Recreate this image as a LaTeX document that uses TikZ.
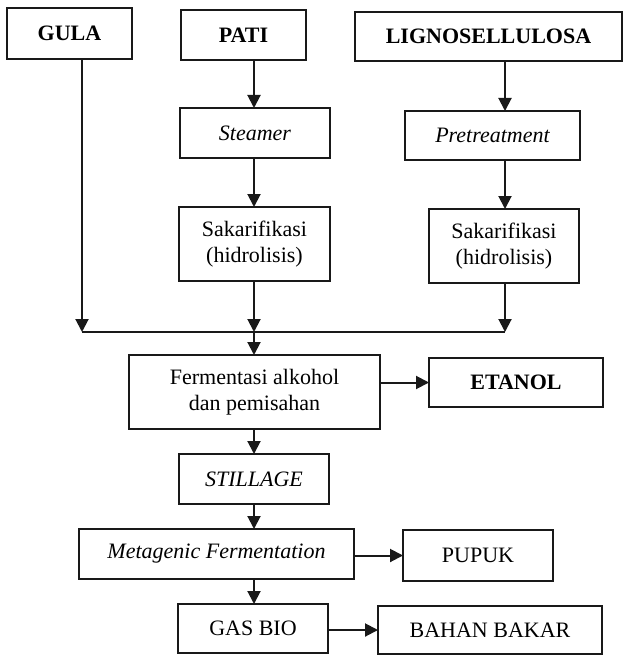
\documentclass[tikz,border=0pt]{standalone}
\usepackage{fontspec}
\setmainfont{Liberation Serif}
\usetikzlibrary{arrows.meta}
\begin{document}
\begin{tikzpicture}[x=1pt,y=-1pt,
  box/.style={draw=black!90, line width=1.9pt, rectangle, inner sep=0pt, outer sep=0pt,
    align=center, font=\fontsize{22}{26.5}\selectfont},
  bx/.style={box, font=\fontsize{22}{26.5}\selectfont\bfseries},
  it/.style={box, font=\fontsize{22}{26.5}\selectfont\itshape},
  arr/.style={draw=black!90, line width=2pt, -{Triangle[length=13pt,width=13pt]}},
  ln/.style={draw=black!90, line width=2pt}]
\useasboundingbox[fill=white] (0,0) rectangle (626,655);
% top row
\node[bx, minimum width=125pt, minimum height=51pt] (gula) at (69.5,33.5) {GULA};
\node[bx, minimum width=125pt, minimum height=50pt] (pati) at (243.5,35) {PATI};
\node[bx, minimum width=267pt, minimum height=49pt] (ligno) at (488.5,36.5) {LIGNOSELLULOSA};
% second row
\node[it, minimum width=150pt, minimum height=50pt] (steamer) at (255,133) {Steamer};
\node[it, minimum width=175pt, minimum height=49pt] (pretr) at (492.5,135.5) {Pretreatment};
% third row
\node[box, minimum width=151pt, minimum height=74pt] (sak1) at (254.5,244) {Sakarifikasi\\(hidrolisis)};
\node[box, minimum width=150pt, minimum height=74pt] (sak2) at (504,246) {Sakarifikasi\\(hidrolisis)};
% junction
\coordinate (jl) at (82,332);
\coordinate (jm) at (254,332);
\coordinate (jr) at (505,332);
% fermentation
\node[box, minimum width=251pt, minimum height=74pt] (ferm) at (254.5,392) {Fermentasi alkohol\\dan pemisahan};
\node[bx, minimum width=174pt, minimum height=49pt] (etanol) at (516,382.5) {ETANOL};
\node[it, minimum width=150pt, minimum height=50pt] (still) at (254,479) {STILLAGE};
\node[it, minimum width=275pt, minimum height=50pt] (meta) at (216.5,554) {Metagenic Fermentation};
\node[box, minimum width=150pt, minimum height=51pt] (pupuk) at (478,555.5) {PUPUK};
\node[box, minimum width=150pt, minimum height=49pt] (gas) at (253,628.5) {GAS BIO};
\node[box, minimum width=224pt, minimum height=48pt] (bahan) at (490,630) {BAHAN BAKAR};
% connectors
\draw[arr] (jm |- pati.south) -- (jm |- steamer.north);
\draw[arr] (jm |- steamer.south) -- (jm |- sak1.north);
\draw[arr] (jr |- ligno.south) -- (jr |- pretr.north);
\draw[arr] (jr |- pretr.south) -- (jr |- sak2.north);
\draw[arr] (jl |- gula.south) -- (jl);
\draw[arr] (jm |- sak1.south) -- (jm);
\draw[arr] (jr |- sak2.south) -- (jr);
\draw[ln] (jl) -- (jr);
\draw[arr] (jm) -- (jm |- ferm.north);
\draw[arr] (ferm.east |- etanol.west) -- (etanol.west);
\draw[arr] (jm |- ferm.south) -- (jm |- still.north);
\draw[arr] (jm |- still.south) -- (jm |- meta.north);
\draw[arr] (meta.east |- pupuk.west) -- (pupuk.west);
\draw[arr] (jm |- meta.south) -- (jm |- gas.north);
\draw[arr] (gas.east |- bahan.west) -- (bahan.west);
\end{tikzpicture}
\end{document}
